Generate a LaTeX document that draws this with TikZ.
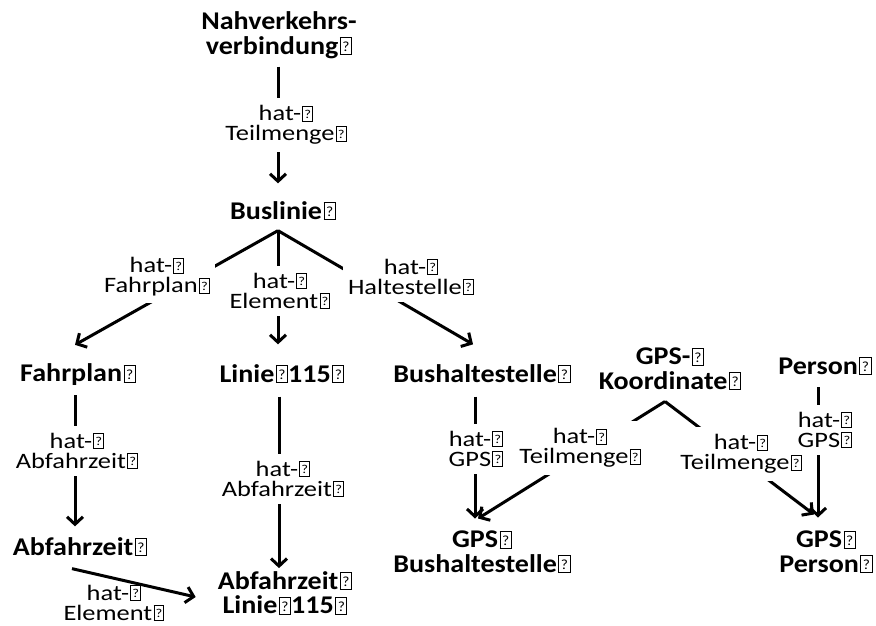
\documentclass[tikz,border=0pt]{standalone}
\usepackage{fontspec}
\usepackage{graphicx}
\setmainfont{Carlito}
\newfontfamily\entfam[FakeStretch=1.1]{Carlito}
\newfontfamily\labfam[FakeStretch=1.2]{Carlito}
\usetikzlibrary{arrows.meta}
\newcommand\qb{\kern0.06em{\setlength\fboxsep{0pt}\setlength\fboxrule{1pt}\fbox{\makebox[0.4em]{\rule{0pt}{0.63em}\raisebox{0.1em}{\scalebox{0.55}{\mdseries ?}}}}}}
\begin{document}
\begin{tikzpicture}[x=1pt,y=-1pt,
  ent/.style={font=\entfam\bfseries\fontsize{25.5}{24.5}\selectfont, align=center, inner sep=0pt},
  lab/.style={font=\labfam\fontsize{22}{20}\selectfont, align=center, fill=white, inner xsep=5pt, inner ysep=7pt},
  con/.style={line width=3pt},
  arr/.style={con, -{Straight Barb[length=7.5pt,width=16pt]}}]
\useasboundingbox (0,0) rectangle (876,626);
% entities
\node[ent] (nahv) at (279,35) {Nahverkehrs-\\verbindung\qb};
\node[ent] (bus) at (283,211) {Buslinie\qb};
\node[ent] (fahr) at (78,375) {Fahrplan\qb};
\node[ent] (linie) at (282,374) {Linie\qb115\qb};
\node[ent] (bhs) at (482,374) {Bushaltestelle\qb};
\node[ent] (gps) at (670,369) {GPS-\qb\\Koordinate\qb};
\node[ent] (person) at (825,366) {Person\qb};
\node[ent] (abf) at (80,547) {Abfahrzeit\qb};
\node[ent] (gpsb) at (482,552) {GPS\qb\\Bushaltestelle\qb};
\node[ent] (abfl) at (285,593) {Abfahrzeit\qb\\Linie\qb115\qb};
\node[ent] (gpsp) at (826,552) {GPS\qb\\Person\qb};
% fan points
\coordinate (busfan) at ([xshift=-5pt,yshift=-10pt]bus.south);
\coordinate (gpsfan) at ([xshift=-5pt,yshift=-11pt]gps.south);
% connectors
\draw[arr] ([xshift=-1pt,yshift=-8pt]nahv.south) -- ([xshift=-1pt,yshift=18pt]nahv.south |- bus.north);
\draw[arr] (busfan) -- ([xshift=-3pt,yshift=19pt]fahr.north);
\draw[arr] (busfan) -- ([yshift=20pt]busfan |- linie.north);
\draw[arr] (busfan) -- ([xshift=-9pt,yshift=20pt]bhs.north);
\draw[arr] ([xshift=-3pt,yshift=-9pt]fahr.south) -- ([xshift=-3pt,yshift=11pt]fahr.south |- abf.north);
\draw[arr] ([xshift=-3pt,yshift=-13pt]linie.south) -- ([xshift=-3pt,yshift=3pt]linie.south |- abfl.north);
\draw[arr] ([xshift=-8pt,yshift=-12pt]abf.south) -- ([xshift=-22pt,yshift=-4pt]abfl.west);
\draw[arr] ([xshift=-7pt,yshift=-13pt]bhs.south) -- ([xshift=-7pt,yshift=12pt]bhs.south |- gpsb.north);
\draw[arr] (gpsfan) -- ([xshift=-4pt,yshift=12pt]gpsb.north);
\draw[arr] (gpsfan) -- ([xshift=-12pt,yshift=16pt]gpsp.north);
\draw[arr] ([xshift=-7pt,yshift=-12pt]person.south) -- ([xshift=-7pt,yshift=13pt]person.south |- gpsp.north);
% labels
\node[lab] (l1) at (286,125) {hat-\qb\\Teilmenge\qb};
\node[lab] (l2) at (157,277) {hat-\qb\\Fahrplan\qb};
\node[lab] (l3) at (280,291) {hat-\qb\\Element\qb};
\node[lab] (l4) at (411,277) {hat-\qb\\Haltestelle\qb};
\node[lab] (l5) at (77,451) {hat-\qb\\Abfahrzeit\qb};
\node[lab] (l6) at (283,479) {hat-\qb\\Abfahrzeit\qb};
\node[lab] (l7) at (476,449) {hat-\qb\\GPS\qb};
\node[lab] (l8) at (580,448) {hat-\qb\\Teilmenge\qb};
\node[lab] (l9) at (741,454) {hat-\qb\\Teilmenge\qb};
\node[lab] (l10) at (825,430) {hat-\qb\\GPS\qb};
\node[lab, fill=none] (l11) at (114,603) {hat-\qb\\Element\qb};
\end{tikzpicture}
\end{document}
